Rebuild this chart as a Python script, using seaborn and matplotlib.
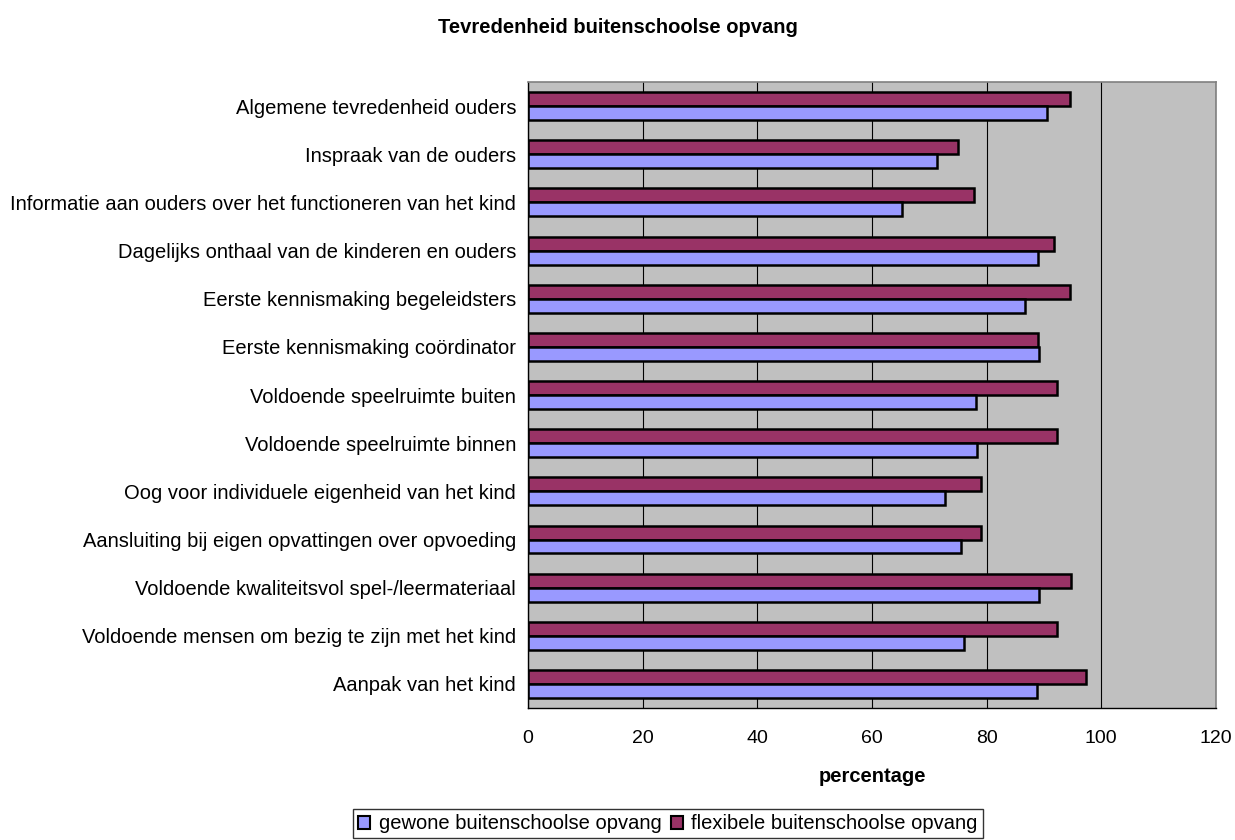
import matplotlib
matplotlib.use('Agg')
import matplotlib.pyplot as plt
import seaborn as sns
import pandas as pd
from matplotlib.patches import Patch

categories = [
    'Algemene tevredenheid ouders',
    'Inspraak van de ouders',
    'Informatie aan ouders over het functioneren van het kind',
    'Dagelijks onthaal van de kinderen en ouders',
    'Eerste kennismaking begeleidsters',
    'Eerste kennismaking coördinator',
    'Voldoende speelruimte buiten',
    'Voldoende speelruimte binnen',
    'Oog voor individuele eigenheid van het kind',
    'Aansluiting bij eigen opvattingen over opvoeding',
    'Voldoende kwaliteitsvol spel-/leermateriaal',
    'Voldoende mensen om bezig te zijn met het kind',
    'Aanpak van het kind',
]
gewone = [90.6, 71.3, 65.3, 89.0, 86.7, 89.2, 78.2, 78.3, 72.7, 75.6, 89.1, 76.1, 88.8]
flexibele = [94.5, 75.0, 77.8, 91.7, 94.5, 89.0, 92.2, 92.2, 79.0, 79.1, 94.8, 92.2, 97.4]
series = ['gewone buitenschoolse opvang', 'flexibele buitenschoolse opvang']
colors = {series[0]: '#9999FF', series[1]: '#993366'}

df = pd.concat([
    pd.DataFrame({'item': categories, 'reeks': series[0], 'pct': gewone}),
    pd.DataFrame({'item': categories, 'reeks': series[1], 'pct': flexibele}),
])

sns.set_style('white')
plt.rcParams['font.family'] = ['Liberation Sans', 'DejaVu Sans']
plt.rcParams['text.color'] = 'black'
plt.rcParams['xtick.color'] = 'black'
plt.rcParams['ytick.color'] = 'black'
plt.rcParams['axes.labelcolor'] = 'black'

FS = 14.5

fig = plt.figure(figsize=(12.35, 8.4), dpi=100)
ax = fig.add_axes([0.4275, 0.1571, 0.5571, 0.7452])
ax.set_facecolor('#C0C0C0')

# flexibele eerst zodat die bovenaan elk paar staat
sns.barplot(data=df, y='item', x='pct', hue='reeks', order=categories,
            hue_order=[series[1], series[0]], palette=colors, width=0.58,
            saturation=1, edgecolor='black', linewidth=1.8, orient='h', ax=ax)

ax.set_xlim(0, 120)
ax.set_ylim(len(categories) - 0.5, -0.5)
ax.set_xticks(range(0, 121, 20))
ax.tick_params(axis='x', labelsize=14, length=5, width=1, direction='out', pad=11)
ax.tick_params(axis='y', which='major', labelsize=FS, length=0, pad=8.6)
ax.set_yticks([i - 0.5 for i in range(len(categories) + 1)], minor=True)
ax.tick_params(axis='y', which='minor', length=5, width=1, direction='out')
ax.xaxis.grid(True, color='black', linewidth=0.8)
ax.set_axisbelow(True)
for s in ['top', 'right']:
    ax.spines[s].set_color('#808080')
    ax.spines[s].set_linewidth(1.2)
for s in ['left', 'bottom']:
    ax.spines[s].set_color('black')
    ax.spines[s].set_linewidth(1)
ax.set_ylabel('')
ax.set_xlabel('percentage', fontsize=FS, fontweight='bold')
ax.xaxis.set_label_coords(0.5, -0.1086)
ax.xaxis.label.set_va('center')

ax.get_legend().remove()
handles = [Patch(facecolor=colors[s], edgecolor='black', linewidth=1.5, label=s) for s in series]
fig.legend(handles=handles, loc='lower center', bbox_to_anchor=(0.541, 0.002), ncol=2,
           fontsize=FS, frameon=True, fancybox=False, edgecolor='black',
           handlelength=0.6, handleheight=0.6, handletextpad=0.4, columnspacing=0.5,
           borderpad=0.25, borderaxespad=0.0)

fig.text(0.5, 0.9667, 'Tevredenheid buitenschoolse opvang', fontsize=FS, fontweight='bold',
         ha='center', va='center')

fig.savefig('out.png', dpi=100)
